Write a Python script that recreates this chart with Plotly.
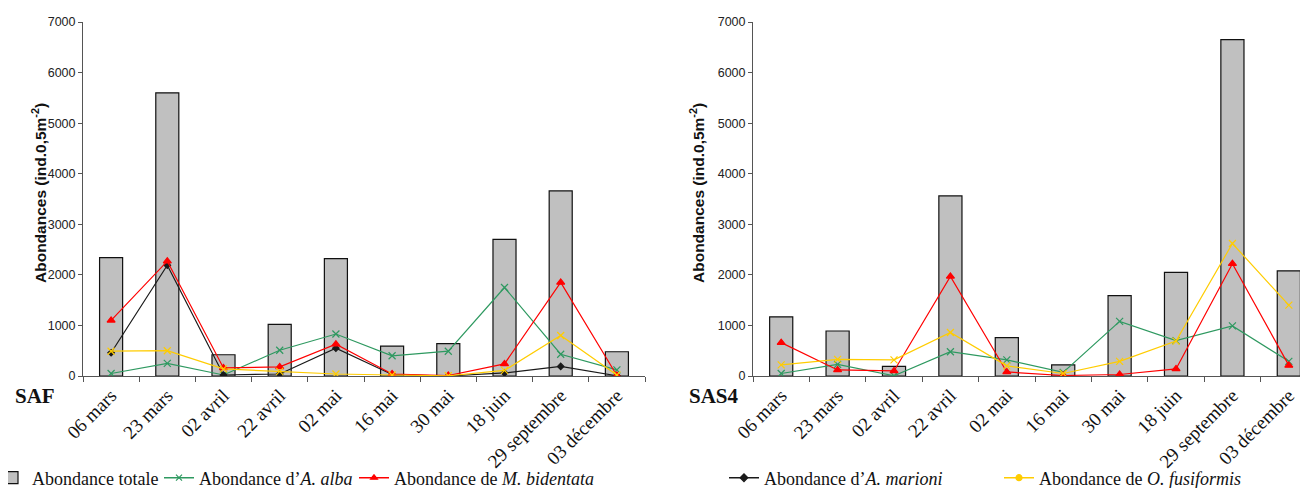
import plotly.graph_objects as go

categories = ["06 mars", "23 mars", "02 avril", "22 avril", "02 mai", "16 mai",
              "30 mai", "18 juin", "29 septembre", "03 décembre"]

# SAF (left panel)
saf_total = [2340, 5600, 420, 1020, 2320, 590, 640, 2700, 3660, 480]
saf_alba = [50, 250, 20, 510, 830, 400, 490, 1750, 430, 120]
saf_bidentata = [1100, 2270, 160, 180, 630, 40, 10, 240, 1850, 10]
saf_marioni = [460, 2190, 20, 40, 550, 30, 0, 60, 190, 5]
saf_fusiformis = [490, 500, 140, 90, 40, 20, 5, 110, 800, 20]

# SAS4 (right panel)
sas4_total = [1170, 890, 190, 3560, 760, 220, 1590, 2050, 6650, 2080]
sas4_alba = [50, 230, 5, 480, 320, 70, 1080, 700, 990, 290]
sas4_bidentata = [660, 120, 100, 1970, 80, 10, 30, 140, 2220, 210]
sas4_fusiformis = [220, 330, 320, 860, 200, 50, 290, 690, 2620, 1400]

y_ticks = [0, 1000, 2000, 3000, 4000, 5000, 6000, 7000]

GREEN = "#2E9960"
RED = "#FF0000"
BLACK = "#1a1a1a"
YELLOW = "#FFCC00"
BAR = "#C0C0C0"

# The page body has an 8px margin: figure is 1300x480 and placed at (8, 8).
W, H, OFF = 1300, 480, 8
def xp(px):
    return (px - OFF) / W
def yp(py):
    return (H - (py - OFF)) / H

fig = go.Figure()

def add_panel(xa, ya, total, series):
    fig.add_trace(go.Bar(x=categories, y=total, xaxis=xa, yaxis=ya, width=0.41,
                         marker=dict(color=BAR, line=dict(color="#111", width=1.2)),
                         showlegend=False))
    for vals, color, sym, size in series:
        fig.add_trace(go.Scatter(x=categories, y=vals, xaxis=xa, yaxis=ya, mode="lines+markers",
                                 line=dict(color=color, width=1.2),
                                 marker=dict(symbol=sym, size=size, color=color,
                                             line=dict(color=color, width=1.2)),
                                 showlegend=False))

add_panel("x", "y", saf_total, [
    (saf_alba, GREEN, "x-thin", 7),
    (saf_marioni, BLACK, "diamond", 5),
    (saf_bidentata, RED, "triangle-up", 7),
    (saf_fusiformis, YELLOW, "x-thin", 7),
])
add_panel("x2", "y2", sas4_total, [
    (sas4_alba, GREEN, "x-thin", 7),
    (sas4_bidentata, RED, "triangle-up", 7),
    (sas4_fusiformis, YELLOW, "x-thin", 7),
])

# Legend entries (each in its own legend for positioning); x = target text start in px
legend_items = [
    ("Abondance totale", "bar", BAR, None, "legend", 33),
    ("Abondance d’<i>A. alba</i>", "line", GREEN, "x-thin", "legend2", 200),
    ("Abondance de <i>M. bidentata</i>", "line", RED, "triangle-up", "legend3", 395),
    ("Abondance d’<i>A. marioni</i>", "line", BLACK, "diamond", "legend4", 765),
    ("Abondance de <i>O. fusiformis</i>", "line", YELLOW, "circle", "legend5", 1040),
]
for name, kind, color, sym, lg, _ in legend_items:
    if kind == "bar":
        fig.add_trace(go.Bar(x=[None], y=[None], name=name, legend=lg,
                             marker=dict(color=BAR, line=dict(color="#111", width=1.2))))
    else:
        fig.add_trace(go.Scatter(x=[None], y=[None], name=name, legend=lg, mode="lines+markers",
                                 line=dict(color=color, width=1.5),
                                 marker=dict(symbol=sym, size=6, color=color,
                                             line=dict(color=color, width=1.2))))

axis_font = dict(family="Liberation Sans, Arial", size=12.5, color="#222")
cat_font = dict(family="Liberation Serif, Times New Roman", size=19, color="#111")

common_y = dict(range=[0, 7000], tickvals=y_ticks, showgrid=False, zeroline=False,
                showline=True, linecolor="#555", linewidth=1, ticks="outside", ticklen=4,
                tickcolor="#555", tickfont=axis_font, automargin=False)
common_x = dict(type="category", showgrid=False, zeroline=False, showline=True,
                linecolor="#555", linewidth=1, ticks="outside", ticklen=5, tickcolor="#555",
                tickson="boundaries", tickangle=-45, tickfont=cat_font, automargin=False)

title_font = dict(family="Liberation Sans, Arial", size=15.5, color="#111")
tag_font = dict(family="Liberation Serif, Times New Roman", size=21, color="#111")

layout = dict(
    width=W, height=H,
    margin=dict(l=0, r=0, t=0, b=0, autoexpand=False),
    paper_bgcolor="white", plot_bgcolor="white",
    xaxis=dict(domain=[xp(83), xp(645)], range=[-0.5, 9.5], anchor="y", **common_x),
    yaxis=dict(domain=[yp(376), yp(22)], anchor="x", **common_y),
    xaxis2=dict(domain=[xp(753), 1.0], range=[-0.5, 9.34], anchor="y2", **common_x),
    yaxis2=dict(domain=[yp(376), yp(22)], anchor="x2", **common_y),
    annotations=[
        dict(text="<b>Abondances (ind.0,5m<sup>-2</sup>)</b>", x=xp(27), y=yp(193),
             xref="paper", yref="paper", textangle=-90, showarrow=False, font=title_font),
        dict(text="<b>Abondances (ind.0,5m<sup>-2</sup>)</b>", x=xp(697), y=yp(193),
             xref="paper", yref="paper", textangle=-90, showarrow=False, font=title_font),
        dict(text="<b>SAF</b>", x=xp(13), y=yp(396), xref="paper", yref="paper",
             xanchor="left", yanchor="middle", showarrow=False, font=tag_font),
        dict(text="<b>SAS4</b>", x=xp(687), y=yp(396), xref="paper", yref="paper",
             xanchor="left", yanchor="middle", showarrow=False, font=tag_font),
    ],
)
leg_font = dict(family="Liberation Serif, Times New Roman", size=18, color="#111")
for name, kind, color, sym, lg, txt_px in legend_items:
    layout[lg] = dict(x=xp(txt_px - 41), y=yp(478), xanchor="left", yanchor="middle",
                      orientation="h", bgcolor="rgba(0,0,0,0)", font=leg_font,
                      itemwidth=30, tracegroupgap=0)

fig.update_layout(**layout)
fig.write_html("out.html")
